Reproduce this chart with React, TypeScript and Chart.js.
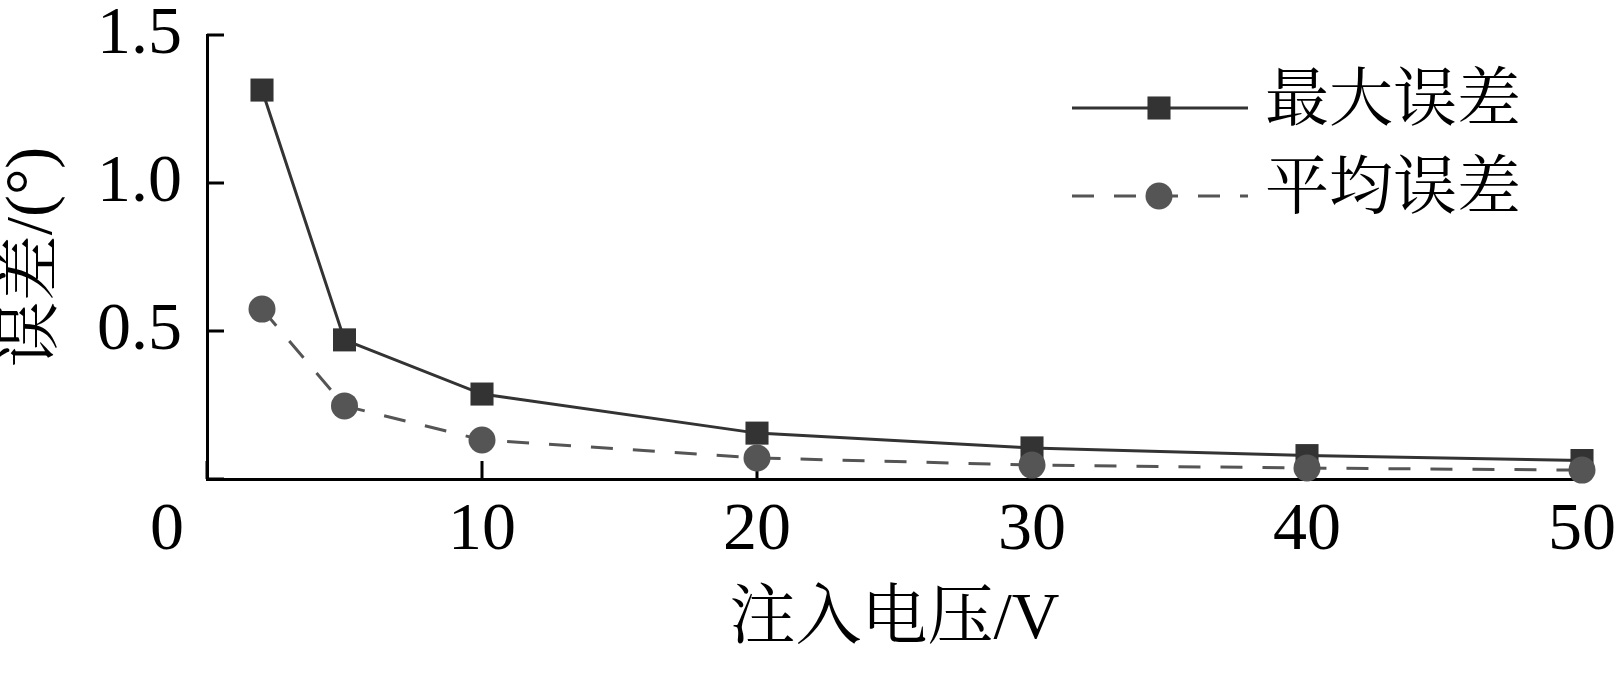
import React, { useEffect, useRef } from 'react';
import { Chart, registerables } from 'chart.js';

Chart.register(...registerables);

// ---- data ----
const voltages = [2, 5, 10, 20, 30, 40, 50];
const maxError = [1.314, 0.47, 0.287, 0.155, 0.105, 0.079, 0.0625];
const meanError = [0.574, 0.247, 0.132, 0.071, 0.047, 0.037, 0.03];
const seriesLabels = ['最大误差', '平均误差'];
const xTickValues = [0, 10, 20, 30, 40, 50];
const yTickValues = [0, 0.5, 1.0, 1.5];
const xTitle = '注入电压/V';
const yTitle = '误差/(°)';

const FONT = "'Liberation Serif', 'Noto Serif CJK SC', 'Noto Sans CJK SC', serif";

// inward tick marks, drawn under the data markers
const inwardTicksPlugin = {
  id: 'inwardTicks',
  beforeDatasetsDraw(chart: any) {
    const ctx = chart.ctx as CanvasRenderingContext2D;
    const xs = chart.scales.x;
    const ys = chart.scales.y;
    ctx.save();
    ctx.strokeStyle = '#000';
    ctx.lineWidth = 3;
    ctx.beginPath();
    ys.ticks.forEach((t: any) => {
      const y = ys.getPixelForValue(t.value);
      ctx.moveTo(ys.right, y);
      ctx.lineTo(ys.right + 17, y);
    });
    xs.ticks.forEach((t: any) => {
      const x = xs.getPixelForValue(t.value);
      ctx.moveTo(x, xs.top);
      ctx.lineTo(x, xs.top - 18);
    });
    ctx.stroke();
    ctx.restore();
  },
};

const overlayPlugin = {
  id: 'overlay',
  afterDraw(chart: any) {
    const ctx = chart.ctx as CanvasRenderingContext2D;
    const xs = chart.scales.x;
    const ys = chart.scales.y;
    ctx.save();
    // shared origin label
    ctx.fillStyle = '#000';
    ctx.font = `68px ${FONT}`;
    ctx.textAlign = 'center';
    ctx.textBaseline = 'middle';
    ctx.fillText(String(xTickValues[0]), xs.getPixelForValue(xTickValues[0]) - 40, ys.getPixelForValue(yTickValues[0]) + 52);

    // legend
    const x0 = 1072;
    const x1 = 1248;
    const xm = (x0 + x1) / 2 - 1;
    chart.data.datasets.forEach((ds: any, i: number) => {
      const y = chart.chartArea.top + 73 + i * 88;
      ctx.save();
      ctx.strokeStyle = ds.borderColor;
      ctx.lineWidth = ds.borderWidth;
      ctx.setLineDash(ds.borderDash || []);
      ctx.beginPath();
      ctx.moveTo(x0, y);
      ctx.lineTo(x1, y);
      ctx.stroke();
      ctx.restore();
      ctx.fillStyle = ds.pointBackgroundColor;
      ctx.beginPath();
      if (ds.pointStyle === 'rect') {
        const h = ds.pointRadius * Math.SQRT1_2;
        ctx.rect(xm - h, y - h, 2 * h, 2 * h);
      } else {
        ctx.arc(xm, y, ds.pointRadius, 0, Math.PI * 2);
      }
      ctx.fill();
      ctx.fillStyle = '#000';
      ctx.font = `64px ${FONT}`;
      ctx.textAlign = 'left';
      ctx.textBaseline = 'middle';
      ctx.fillText(ds.label, 1265, y - 5);
    });
    ctx.restore();
  },
};

export default function App() {
  const ref = useRef<HTMLCanvasElement | null>(null);

  useEffect(() => {
    if (!ref.current) return;
    const chart = new Chart(ref.current, {
      type: 'line',
      data: {
        datasets: [
          {
            label: seriesLabels[0],
            data: voltages.map((v, i) => ({ x: v, y: maxError[i] })),
            borderColor: '#333333',
            borderWidth: 3,
            pointStyle: 'rect',
            pointRadius: 16.3,
            pointHoverRadius: 16.3,
            pointBackgroundColor: '#333333',
            pointBorderWidth: 0,
            order: 2,
            clip: false,
          } as any,
          {
            label: seriesLabels[1],
            data: voltages.map((v, i) => ({ x: v, y: meanError[i] })),
            borderColor: '#555555',
            borderWidth: 3,
            borderDash: [22, 20],
            pointStyle: 'circle',
            pointRadius: 13.5,
            pointHoverRadius: 13.5,
            pointBackgroundColor: '#555555',
            pointBorderWidth: 0,
            order: 1,
            clip: false,
          } as any,
        ],
      },
      options: {
        animation: false,
        responsive: true,
        maintainAspectRatio: false,
        devicePixelRatio: 1,
        layout: { padding: { top: 35, right: 34, bottom: 0, left: 0 } },
        plugins: {
          legend: { display: false },
          tooltip: { enabled: false },
        },
        scales: {
          x: {
            type: 'linear',
            min: xTickValues[0],
            max: xTickValues[xTickValues.length - 1],
            afterBuildTicks: (scale: any) => {
              scale.ticks = xTickValues.map((v) => ({ value: v }));
            },
            afterFit: (scale: any) => {
              scale.height = 200;
              scale.paddingLeft = 0;
              scale.paddingRight = 0;
            },
            grid: {
              display: true,
              drawOnChartArea: false,
              drawTicks: false,
            },
            border: { display: true, width: 3, color: '#000' },
            ticks: {
              color: '#000',
              padding: 18,
              maxRotation: 0,
              font: { family: FONT, size: 68, lineHeight: 1 },
              callback: (v: any) => (v === xTickValues[0] ? '' : String(v)),
            },
            title: {
              display: true,
              text: xTitle,
              color: '#000',
              font: { family: FONT, size: 66, lineHeight: 1 },
              padding: { top: 0, bottom: 25 },
            },
          },
          y: {
            type: 'linear',
            min: yTickValues[0],
            max: yTickValues[yTickValues.length - 1],
            afterBuildTicks: (scale: any) => {
              scale.ticks = yTickValues.map((v) => ({ value: v }));
            },
            afterFit: (scale: any) => {
              scale.width = 207;
              scale.paddingTop = 0;
              scale.paddingBottom = 0;
            },
            grid: {
              display: true,
              drawOnChartArea: false,
              drawTicks: false,
            },
            border: { display: true, width: 3, color: '#000' },
            ticks: {
              color: '#000',
              padding: 25,
              font: { family: FONT, size: 68, lineHeight: 1 },
              callback: (v: any) => (v === yTickValues[0] ? '' : Number(v).toFixed(1)),
            },
            title: {
              display: true,
              text: yTitle,
              color: '#000',
              font: { family: FONT, size: 66, lineHeight: 1 },
              padding: { top: 1, bottom: 0 },
            },
          },
        },
      } as any,
      plugins: [inwardTicksPlugin, overlayPlugin],
    });
    return () => chart.destroy();
  }, []);

  return (
    <div style={{ position: 'fixed', left: 0, top: 0, width: 1616, height: 679, background: '#fff' }}>
      <canvas ref={ref} />
    </div>
  );
}
